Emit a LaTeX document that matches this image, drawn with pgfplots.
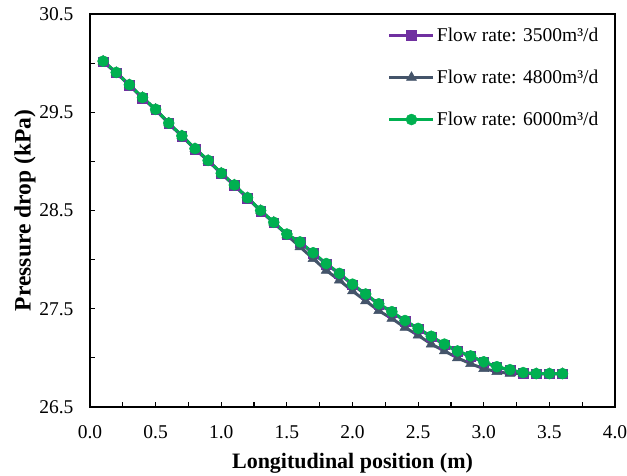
\documentclass[border=0pt]{standalone}
\usepackage{fontspec}
\setmainfont{Liberation Serif}
\usepackage{pgfplots}
\pgfplotsset{compat=1.18}
\definecolor{cpurple}{HTML}{7030A0}
\definecolor{cslate}{HTML}{44546A}
\definecolor{cgreen}{HTML}{00B050}
\begin{document}
\begin{tikzpicture}
\useasboundingbox (-90bp,-69bp) rectangle (537bp,407bp);
\begin{axis}[
  at={(0,0)}, anchor=south west,
  scale only axis, width=525bp, height=393bp,
  xmin=0, xmax=4, ymin=26.5, ymax=30.5,
  xtick={0,0.5,...,4}, ytick={26.5,27.5,28.5,29.5,30.5},
  minor x tick num=1, minor y tick num=1,
  /pgf/number format/fixed, /pgf/number format/fixed zerofill,
  /pgf/number format/precision=1,
  /pgf/number format/assume math mode=true,
  tick align=inside, xtick pos=left, ytick pos=left,
  major tick length=5bp, minor tick length=5bp,
  tick style={black, line width=1.2bp},
  axis line style={black, line width=2bp},
  ticklabel style={font=\fontsize{19.5bp}{22bp}\selectfont},
  xticklabel style={yshift=-15bp},
  yticklabel style={xshift=-13bp},
  xlabel={Longitudinal position (m)},
  ylabel={Pressure drop (kPa)},
  xlabel style={font=\fontsize{22bp}{26bp}\selectfont\bfseries, yshift=-8bp},
  ylabel style={font=\fontsize{23.5bp}{28bp}\selectfont\bfseries, yshift=-3bp},
  legend style={at={(0.978,0.975)}, anchor=north east, draw=none, fill=none,
    font=\fontsize{19.5bp}{22bp}\selectfont, row sep=23bp,
    /tikz/every even column/.append style={column sep=2bp}},
  legend cell align=left,
  legend image code/.code={\draw[mark repeat=2,mark phase=2] plot coordinates {(0bp,0bp)(22bp,0bp)(44bp,0bp)};},
  every axis plot/.append style={line width=3bp},
]
\addplot[color=cpurple, mark=square*, mark size=4.8bp, mark options={line width=0.5bp}] coordinates {
(0.1,30.015)(0.2,29.90)(0.3,29.775)(0.4,29.645)(0.5,29.525)(0.6,29.385)(0.7,29.255)(0.8,29.125)(0.9,29.005)(1.0,28.875)
(1.1,28.755)(1.2,28.625)(1.3,28.495)(1.4,28.375)(1.5,28.255)(1.6,28.175)(1.7,28.065)(1.8,27.955)(1.9,27.855)(2.0,27.745)
(2.1,27.645)(2.2,27.545)(2.3,27.465)(2.4,27.375)(2.5,27.295)(2.6,27.215)(2.7,27.135)(2.8,27.065)(2.9,27.015)(3.0,26.955)
(3.1,26.905)(3.2,26.875)(3.3,26.845)(3.4,26.838)(3.5,26.838)(3.6,26.838)};
\addlegendentry{Flow rate: 3500m³/d}
\addplot[color=cslate, mark=triangle*, mark size=5.8bp, mark options={line width=0.5bp}] coordinates {
(0.1,30.02)(0.2,29.905)(0.3,29.78)(0.4,29.65)(0.5,29.53)(0.6,29.39)(0.7,29.26)(0.8,29.13)(0.9,29.01)(1.0,28.88)
(1.1,28.76)(1.2,28.63)(1.3,28.50)(1.4,28.38)(1.5,28.25)(1.6,28.13)(1.7,28.01)(1.8,27.89)(1.9,27.79)(2.0,27.68)
(2.1,27.58)(2.2,27.48)(2.3,27.40)(2.4,27.31)(2.5,27.23)(2.6,27.14)(2.7,27.07)(2.8,27.00)(2.9,26.94)(3.0,26.89)
(3.1,26.86)(3.2,26.84)(3.3,26.84)(3.4,26.84)(3.5,26.84)(3.6,26.84)};
\addlegendentry{Flow rate: 4800m³/d}
\addplot[color=cgreen, mark=*, mark size=5.5bp, mark options={line width=0.5bp}] coordinates {
(0.1,30.02)(0.2,29.905)(0.3,29.78)(0.4,29.65)(0.5,29.53)(0.6,29.39)(0.7,29.26)(0.8,29.13)(0.9,29.01)(1.0,28.88)
(1.1,28.76)(1.2,28.63)(1.3,28.50)(1.4,28.38)(1.5,28.26)(1.6,28.18)(1.7,28.07)(1.8,27.96)(1.9,27.86)(2.0,27.75)
(2.1,27.65)(2.2,27.55)(2.3,27.47)(2.4,27.38)(2.5,27.30)(2.6,27.22)(2.7,27.14)(2.8,27.07)(2.9,27.02)(3.0,26.96)
(3.1,26.91)(3.2,26.88)(3.3,26.85)(3.4,26.84)(3.5,26.84)(3.6,26.84)};
\addlegendentry{Flow rate: 6000m³/d}
\end{axis}
\end{tikzpicture}
\end{document}
